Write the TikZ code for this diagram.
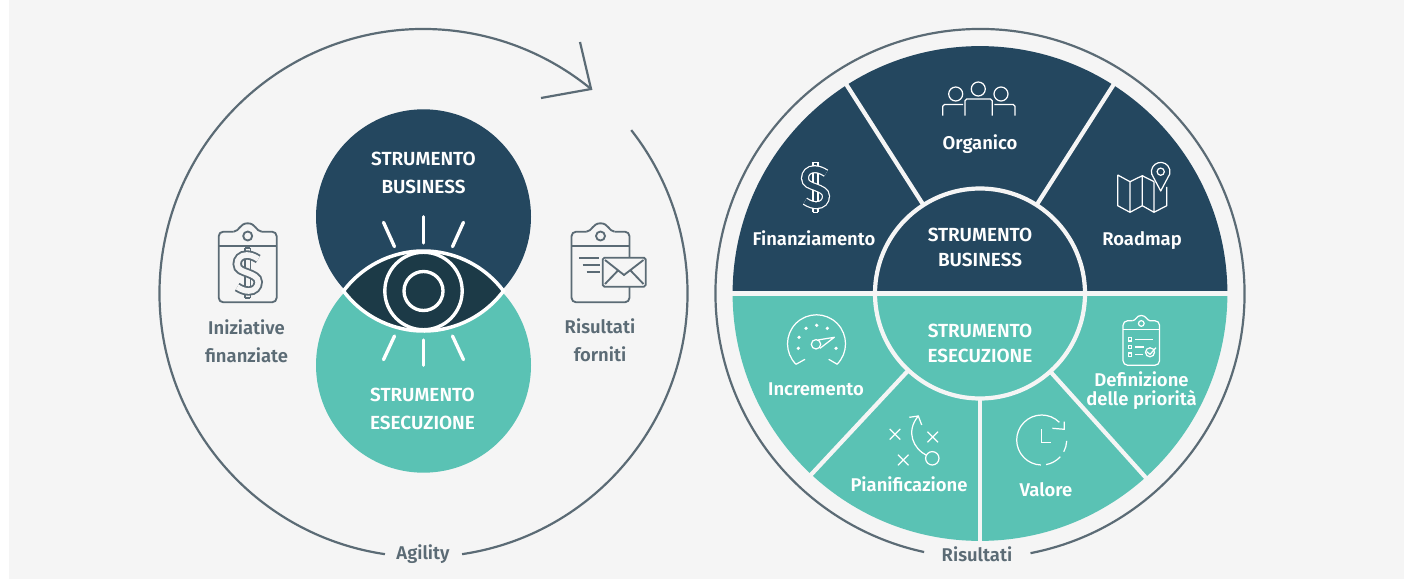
\documentclass[tikz,border=0pt]{standalone}
\usepackage{fontspec}
\setmainfont{Fira Sans}[BoldFont={Fira Sans SemiBold}]
\usepackage{xcolor}
\definecolor{panel-gray}{RGB}{245,245,245}
\definecolor{deep-blue}{RGB}{36,71,95}
\definecolor{mid-teal}{RGB}{90,194,180}
\definecolor{eye-dark}{RGB}{28,58,71}
\definecolor{slate}{RGB}{91,107,117}
\usetikzlibrary{calc}

\tikzset{
	ringline/.style={slate,line width=1.25pt},
	rayline/.style={white,line width=1.9pt,line cap=round},
	sepline/.style={panel-gray,line width=2.4pt},
	grayicon/.style={slate,line width=1.05pt},
	whiteicon/.style={white,line width=.7pt},
	titletext/.style={text=white,font=\bfseries\fontsize{10.8}{16}\selectfont,align=center,inner sep=0pt},
	wheeltext/.style={text=white,font=\bfseries\fontsize{10.5}{10.8}\selectfont,align=center,inner sep=0pt},
	graytext/.style={text=slate,font=\bfseries\fontsize{10.5}{15.8}\selectfont,align=center,inner sep=0pt},
}

% clipboard outline: position, scale, style
\newcommand{\boardicon}[3]{
	\begin{scope}[shift={(#1)},scale=#2]
		\draw[#3,rounded corners=2.6pt] (-14,35.3) -- (-29,35.3) -- (-29,-35.3) -- (29,-35.3) -- (29,35.3) -- (14,35.3);
		\draw[#3] (-14,35.3) .. controls (-8,36) and (-8,43.7) .. (0,43.7) .. controls (8,43.7) and (8,36) .. (14,35.3);
		\draw[#3] (0,31) circle (4.5);
		\draw[#3] (-29,21.3) -- (29,21.3);
	\end{scope}
}
% hollow dollar: position, style, inner colour
\newcommand{\dollaricon}[3]{
	\begin{scope}[shift={(#1)}]
		\draw[#2,double=#3,double distance=2.2pt] (0,-25) -- (0,25);
		\draw[#2] (-2.6,25) -- (2.6,25) (-2.6,-25) -- (2.6,-25);
		\draw[#2,double=#3,double distance=3.2pt]
			(10.5,14) .. controls (6,17) and (2,18) .. (-1,18) .. controls (-7,18) and (-10.5,14) .. (-10.5,9)
			.. controls (-10.5,3) and (-5,2) .. (0,0) .. controls (5,-2) and (10.5,-4) .. (10.5,-9)
			.. controls (10.5,-14) and (7,-18) .. (1,-18) .. controls (-2,-18) and (-6,-17) .. (-10.5,-14);
	\end{scope}
}

\begin{document}
\begin{tikzpicture}[x=.02cm,y=.02cm]
	\useasboundingbox (0,0) rectangle (1413,579);
	\fill[panel-gray] (9,0) rectangle (1404,579);

	\coordinate (big) at (423.5,286);
	\coordinate (wheel) at (980,285.5);
	\coordinate (eye) at (423.5,288);

	% left cycle
	\coordinate (arcA) at ($(big)+(261.6:264)$);
	\coordinate (arcB) at ($(big)+(-81.6:264)$);
	\coordinate (tip) at ($(big)+(50.6:264)$);
	\draw[ringline] (arcA) arc[start angle=261.6,end angle=50.6,radius=264];
	\draw[ringline] (arcB) arc[start angle=-81.6,end angle=38.1,radius=264];
	\draw[ringline] (541,481) -- (tip) -- (580,537);

	% the two tools
	\fill[deep-blue] (423.5,362.2) circle (107.5);
	\fill[mid-teal] (423.5,213.8) circle (107.5);

	% eye
	\draw[white,fill=eye-dark,line width=2pt,line join=miter]
		($(eye)+(-80,0)$) arc[start angle=143.13,end angle=36.87,radius=100]
		arc[start angle=-36.87,end angle=-143.13,radius=100] -- cycle;
	\draw[white,line width=1.9pt] (eye) circle (38.7);
	\draw[white,line width=1.9pt] (eye) circle (19.5);
	\foreach \xa/\ya/\xb/\yb in {0/74.3/0/48,-40/68.7/-29/44.3,40/68.7/29/44.3,
		0/-74.3/0/-49,-40/-68.7/-29/-45,40/-68.7/29/-45}
		\draw[rayline] ($(eye)+(\xa,\ya)$) -- ($(eye)+(\xb,\yb)$);

	\node[titletext] (toolA) at (423.5,406) {STRUMENTO\\BUSINESS};
	\node[titletext] (toolB) at (422.5,170.5) {STRUMENTO\\ESECUZIONE};

	% left icons
	\boardicon{247.7,312}{1}{grayicon}
	\dollaricon{247.7,306}{grayicon}{panel-gray}
	\boardicon{600.5,312}{1}{grayicon}
	\draw[grayicon] (579.3,321.3) -- (599,321.3) (582.7,314) -- (600,314) (586.7,306.7) -- (600,306.7);
	\draw[grayicon,fill=panel-gray,rounded corners=1pt] (602.7,292.3) rectangle (645.7,321.3);
	\draw[grayicon] (605,319) -- (624,304) -- (643.5,319) (605,295) -- (617.5,308) (643.5,295) -- (631,308);

	\node[graytext] (funded) at (246.5,238) {Iniziative\\finanziate};
	\node[graytext] (output) at (600,238.5) {Risultati\\forniti};
	\node[graytext] (agility) at (423,25) {Agility};

	% right wheel
	\draw[ringline] ($(wheel)+(-79:264.5)$) arc[start angle=-79,end angle=257.8,radius=264.5];
	\fill[deep-blue] ($(wheel)+(247.4,0)$) arc[start angle=0,end angle=180,radius=247.4] -- cycle;
	\fill[mid-teal] ($(wheel)+(-247.4,0)$) arc[start angle=180,end angle=360,radius=247.4] -- cycle;
	\foreach \ang in {122.6,57.4,-133,-48,-90}
		\draw[sepline] ($(wheel)+(\ang:105)$) -- ($(wheel)+(\ang:250)$);
	\draw[sepline] (wheel) circle (105);
	\draw[sepline,line width=2.8pt] ($(wheel)+(-250,0)$) -- ($(wheel)+(250,0)$);

	\node[titletext,font=\bfseries\fontsize{10.8}{14.7}\selectfont] (toolC) at (980,331.5) {STRUMENTO\\BUSINESS};
	\node[titletext,font=\bfseries\fontsize{10.8}{14.7}\selectfont] (toolD) at (980,235.5) {STRUMENTO\\ESECUZIONE};

	\node[wheeltext] (staff) at (980,435) {Organico};
	\node[wheeltext] (funding) at (814,341) {Finanziamento};
	\node[wheeltext] (roadmap) at (1142,338.5) {Roadmap};
	\node[wheeltext] (growth) at (816,189.5) {Incremento};
	\node[wheeltext] (priority) at (1141.5,188.5) {Definizione\\delle priorità};
	\node[wheeltext] (plan) at (909,94.5) {Pianificazione};
	\node[wheeltext] (value) at (1046,89) {Valore};
	\node[graytext] (results) at (977,25) {Risultati};

	% wheel icons
	\dollaricon{815.5,391.8}{whiteicon}{deep-blue}

	% people
	\draw[whiteicon] (955.7,485) circle (7) (978.3,490) circle (7) (1001,485) circle (7);
	\draw[whiteicon,rounded corners=1pt] (965,463.3) -- (965,480) -- (992.3,480) -- (992.3,463.3);
	\draw[whiteicon,rounded corners=1pt] (942.7,463.3) -- (942.7,474.5) -- (963,474.5);
	\draw[whiteicon,rounded corners=1pt] (994.3,474.5) -- (1015,474.5) -- (1015,463.3);

	% map and pin
	\draw[whiteicon,line join=round] (1117.7,404) -- (1130,397.3) -- (1142.3,403.3) -- (1154,397.3)
		(1166.7,392) -- (1166.7,373.3) -- (1154,366.7) -- (1142.3,373.3) -- (1130,366.7) -- (1117.7,373.3) -- (1117.7,404)
		(1130,397.3) -- (1130,366.7) (1142.3,403.3) -- (1142.3,373.3) (1154,397.3) -- (1154,366.7);
	\draw[whiteicon,fill=deep-blue,line join=round] (1160.7,388) -- ($(1160.7,407.3)+(195:9.3)$) arc[start angle=195,end angle=-15,radius=9.3] -- cycle;
	\draw[whiteicon] (1160.7,407.3) circle (3.6);

	% gauge
	\draw[whiteicon] (796,214.7) arc[start angle=225,end angle=-45,radius=29];
	\draw[whiteicon] (796,214.7) -- (805,219.7) (837.3,214.7) -- (828.7,219.7);
	\foreach \px/\py in {798.3/230.7,799/241.7,806/250.7,816.7/253.7,827.3/250.7,836/230.7}
		\fill[white] (\px,\py) circle (1.8);
	\draw[whiteicon] (816,234.7) circle (4.7);
	\draw[whiteicon,line join=round] (817.7,239) -- (834.3,241.7) -- (820,230.7);

	% plays
	\foreach \px/\py in {895/144.7,932.7/142,903.3/119}
		\draw[whiteicon] (\px-5.3,\py-5.3) -- (\px+5.3,\py+5.3) (\px-5.3,\py+5.3) -- (\px+5.3,\py-5.3);
	\draw[whiteicon] (932.3,120.7) circle (6.7);
	\draw[whiteicon] (926,124) .. controls (914,130) and (905,147) .. (918.3,163);
	\draw[whiteicon] (909.3,161.7) -- (918.3,163) -- (921.7,154);

	% clock
	\draw[whiteicon] ($(1041.7,139)+(45:25)$) arc[start angle=45,end angle=268,radius=25];
	\draw[whiteicon] ($(1041.7,139)+(-80:25)$) arc[start angle=-80,end angle=-42,radius=25];
	\draw[whiteicon] ($(1041.7,139)+(-28:25)$) arc[start angle=-28,end angle=-2,radius=25];
	\draw[whiteicon] (1041.7,149.7) -- (1041.7,136.7) -- (1051,136.7);
	\draw[whiteicon] (1052.3,150.7) -- (1064.3,149.7) -- (1064.3,157.3);

	% checklist
	\boardicon{1141.3,236}{.63}{whiteicon}
	\foreach \py in {239.7,232,224.3}
		\draw[whiteicon] (1128.3,\py-1.7) rectangle (1131.7,\py+1.7);
	\draw[whiteicon] (1135,239.7) -- (1153.3,239.7) (1135,232) -- (1144,232) (1135,224.3) -- (1143.3,224.3);
	\draw[whiteicon] (1150,226.7) circle (4.5);
	\draw[whiteicon] (1146.7,227.3) -- (1150,224.7) -- (1156,231.3);
\end{tikzpicture}
\end{document}
